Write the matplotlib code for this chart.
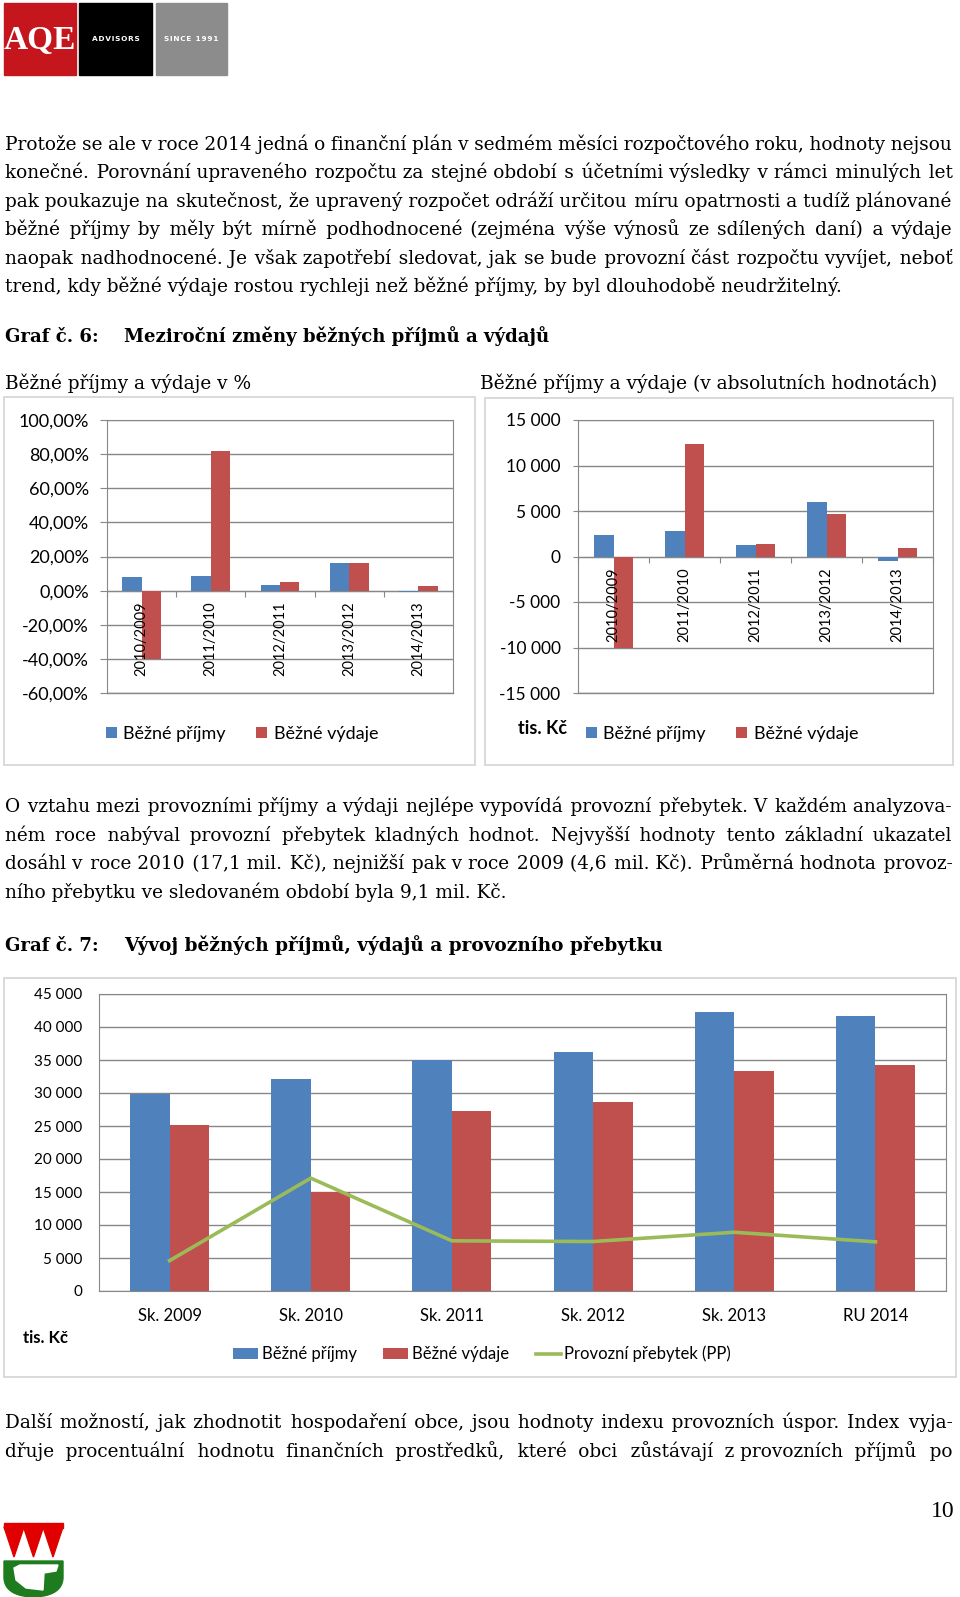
import numpy as np
import matplotlib
matplotlib.use('Agg')
from matplotlib import pyplot as plt
from matplotlib.patches import Rectangle, Polygon
from matplotlib.ticker import FuncFormatter

plt.rcParams['font.family'] = ['Lato', 'DejaVu Sans']

W, H = 960, 1597

# Graf 6 - mezirocni zmeny
periods = ['2010/2009', '2011/2010', '2012/2011', '2013/2012', '2014/2013']
income_pct = [8.0, 8.8, 3.3, 16.2, -1.0]
spend_pct = [-40.0, 81.6, 4.9, 16.2, 2.5]
income_abs = [2380, 2820, 1210, 5960, -480]
spend_abs = [-10060, 12330, 1320, 4680, 910]

# Graf 7 - vyvoj (tis. Kc)
years = ['Sk. 2009', 'Sk. 2010', 'Sk. 2011', 'Sk. 2012', 'Sk. 2013', 'RU 2014']
income = [29800, 32100, 35000, 36200, 42200, 41700]
spending = [25150, 15000, 27300, 28600, 33300, 34200]
surplus = [4600, 17100, 7600, 7500, 8900, 7450]

blue = '#4F81BD'
red = '#C0504D'
green = '#9BBB59'
grid_c = '#878787'
frame_c = '#D9D9D9'
serif = ['DejaVu Serif', 'DejaVu Sans']

para1 = [
    'Protože se ale v roce 2014 jedná o finanční plán v sedmém měsíci rozpočtového roku, hodnoty nejsou',
    'konečné. Porovnání upraveného rozpočtu za stejné období s účetními výsledky v rámci minulých let',
    'pak poukazuje na skutečnost, že upravený rozpočet odráží určitou míru opatrnosti a tudíž plánované',
    'běžné příjmy by měly být mírně podhodnocené (zejména výše výnosů ze sdílených daní) a výdaje',
    'naopak nadhodnocené. Je však zapotřebí sledovat, jak se bude provozní část rozpočtu vyvíjet, neboť',
    'trend, kdy běžné výdaje rostou rychleji než běžné příjmy, by byl dlouhodobě neudržitelný.',
]
para2 = [
    'O vztahu mezi provozními příjmy a výdaji nejlépe vypovídá provozní přebytek. V každém analyzova-',
    'ném roce nabýval provozní přebytek kladných hodnot. Nejvyšší hodnoty tento základní ukazatel',
    'dosáhl v roce 2010 (17,1 mil. Kč), nejnižší pak v roce 2009 (4,6 mil. Kč). Průměrná hodnota provoz-',
    'ního přebytku ve sledovaném období byla 9,1 mil. Kč.',
]
para3 = [
    'Další možností, jak zhodnotit hospodaření obce, jsou hodnoty indexu provozních úspor. Index vyja-',
    'dřuje procentuální hodnotu finančních prostředků, které obci zůstávají z\u00a0provozních příjmů po',
]

fig = plt.figure(figsize=(W / 100, H / 100), dpi=100)
fig.patch.set_facecolor('white')

# whole page in pixel coordinates
page = fig.add_axes([0, 0, 1, 1])
page.set_xlim(0, W)
page.set_ylim(H, 0)
page.axis('off')

rend = fig.canvas.get_renderer()
body_fs = 13.3
HAIR = '\u200a'
THIN = '\u2009'


def width_of(s):
    t = page.text(0, 0, s, fontsize=body_fs, family=serif)
    w = t.get_window_extent(rend).width
    t.remove()
    return w


sp_w = width_of('x x') - width_of('xx')
thin_w = width_of('x' + THIN + 'x') - width_of('xx')
hair_w = width_of('x' + HAIR * 10 + 'x') / 10 - width_of('xx') / 10


def text_line(s, y, justify=True, x0=5, x1=952):
    # one Text per line; justification room filled with hair spaces
    words = s.split(' ')
    if justify and len(words) > 1:
        n = len(words) - 1
        natural = width_of(s)
        base = ' '
        extra = (x1 - x0 - natural) / n
        if extra < 0:
            base = THIN
            extra += sp_w - thin_w
        k = max(extra, 0) / hair_w
        out = words[0]
        for j, w in enumerate(words[1:]):
            m = int(round((j + 1) * k) - round(j * k))
            out += base + HAIR * m + w
        s = out
    page.text(x0, y, s, fontsize=body_fs, family=serif, va='baseline')


def paragraph(lines, y0, last_justified=False, step=28.6):
    for i, s in enumerate(lines):
        text_line(s, y0 + i * step, justify=(i < len(lines) - 1 or last_justified))


paragraph(para1, 149.5)
paragraph(para2, 812)
paragraph(para3, 1428, last_justified=True)

head_fs = 13.1
page.text(5, 342, 'Graf č. 6:', fontsize=head_fs, family=serif, fontweight='bold', va='baseline')
page.text(124, 342, 'Meziroční změny běžných příjmů a výdajů', fontsize=head_fs,
          family=serif, fontweight='bold', va='baseline')
page.text(5, 951, 'Graf č. 7:', fontsize=head_fs, family=serif, fontweight='bold', va='baseline')
page.text(124, 951, 'Vývoj běžných příjmů, výdajů a provozního přebytku', fontsize=13.3,
          family=serif, fontweight='bold', va='baseline')
page.text(5, 389, 'Běžné příjmy a výdaje v %', fontsize=13.3, family=serif, va='baseline')
page.text(480, 389, 'Běžné příjmy a výdaje (v absolutních hodnotách)', fontsize=13.4,
          family=serif, va='baseline')
page.text(955, 1517, '10', fontsize=17, family='Liberation Serif', ha='right', va='baseline')

# header logo
page.add_patch(Rectangle((4, 3), 72, 72, color='#C4161C'))
page.add_patch(Rectangle((79, 3), 73, 72, color='black'))
page.add_patch(Rectangle((156, 3), 71, 72, color='#8C8C8C'))
page.text(40, 41, 'AQE', color='white', fontsize=24, family='Liberation Serif',
          fontweight='bold', ha='center', va='center')
page.text(115.5, 39, HAIR.join('ADVISORS'), color='white', fontsize=5.3, fontweight='bold',
          family='DejaVu Sans', ha='center', va='center')
page.text(191.5, 39, HAIR.join('SINCE 1991'), color='white', fontsize=5.3,
          fontweight='bold', family='DejaVu Sans', ha='center', va='center')

# coat of arms bottom left
t = np.linspace(0, 1, 15)
left_curve = [((1 - s) ** 2 * 4 + 2 * (1 - s) * s * 5 + s ** 2 * 33.5,
               (1 - s) ** 2 * 1578 + 2 * (1 - s) * s * 1596 + s ** 2 * 1597) for s in t]
right_side = [(67 - px, py) for px, py in left_curve]
green_pts = [(4, 1561), (63, 1561)] + right_side + left_curve[::-1]
page.add_patch(Polygon(green_pts, closed=True, color='#1E7B1E'))
page.add_patch(Polygon([(14, 1568), (20, 1565), (58, 1565), (56, 1571), (44, 1573),
                        (43, 1590), (26, 1588), (16, 1580)], closed=True, color='white'))
page.add_patch(Rectangle((4, 1523), 59, 5, color='#E00000'))
for cx in (14, 33.5, 53):
    page.add_patch(Polygon([(cx - 10, 1527), (cx + 10, 1527), (cx, 1557)], closed=True,
                           color='#E00000'))

# chart frames
page.add_patch(Rectangle((4, 397), 471, 368, fill=False, ec=frame_c, lw=1.4))
page.add_patch(Rectangle((485, 398), 468, 367, fill=False, ec=frame_c, lw=1.4))
page.add_patch(Rectangle((4, 978), 952, 399, fill=False, ec=frame_c, lw=1.4))


def box(x0, y0, x1, y1):
    return [x0 / W, 1 - y1 / H, (x1 - x0) / W, (y1 - y0) / H]


def style(ax):
    for s in ax.spines.values():
        s.set_color(grid_c)
    ax.yaxis.grid(True, color=grid_c, lw=1)
    ax.set_axisbelow(True)


bw = 0.28


def change_chart(ax, inc, spd, lo, hi, step, fmt, ytick_len, ypad, fs):
    x = np.arange(len(periods))
    ax.bar(x - bw / 2, inc, bw, color=blue, label='Běžné příjmy', zorder=3)
    ax.bar(x + bw / 2, spd, bw, color=red, label='Běžné výdaje', zorder=3)
    ax.set_xlim(-0.5, len(periods) - 0.5)
    ax.set_ylim(lo, hi)
    ax.set_yticks(np.arange(lo, hi + step, step))
    ax.yaxis.set_major_formatter(FuncFormatter(fmt))
    style(ax)
    ax.spines['bottom'].set_position(('data', 0))
    ax.axhline(lo, color=grid_c, lw=1, clip_on=False)
    ax.set_xticks(np.arange(-0.5, len(periods), 1))
    ax.set_xticklabels([])
    ax.tick_params(axis='x', length=4, color=grid_c, direction='out')
    ax.tick_params(axis='y', length=ytick_len, color=grid_c, pad=ypad, labelsize=fs)
    for i, lab in enumerate(periods):
        ax.annotate(lab, (i, 0), xytext=(0, -8), textcoords='offset points',
                    rotation=90, ha='center', va='top', fontsize=10.5, zorder=4)


ax1 = fig.add_axes(box(107, 420, 453, 693))
change_chart(ax1, income_pct, spend_pct, -60, 100, 20,
             lambda v, p: f'{v:.2f}'.replace('.', ',') + '%', 5, 8, 13)
ax1.legend(loc='center', bbox_to_anchor=(242 / W, 1 - 734 / H), bbox_transform=fig.transFigure,
           ncol=2, frameon=False, fontsize=13, handlelength=0.6, handleheight=0.6,
           handletextpad=0.35, columnspacing=1.7)

ax2 = fig.add_axes(box(578, 420, 933, 693))
change_chart(ax2, income_abs, spend_abs, -15000, 15000, 5000,
             lambda v, p: f'{v:,.0f}'.replace(',', ' '), 3.6, 9, 12.5)
ax2.legend(loc='center', bbox_to_anchor=(722 / W, 1 - 734 / H), bbox_transform=fig.transFigure,
           ncol=2, frameon=False, fontsize=13, handlelength=0.6, handleheight=0.6,
           handletextpad=0.35, columnspacing=1.7)
page.text(518, 728, 'tis. Kč', fontsize=13, fontweight='bold', va='center')

ax3 = fig.add_axes(box(99, 994, 946, 1291))
x3 = np.arange(len(years))
b1 = ax3.bar(x3 - bw / 2, income, bw, color=blue)
b2 = ax3.bar(x3 + bw / 2, spending, bw, color=red)
l1, = ax3.plot(x3, surplus, color=green, lw=2.6)
ax3.set_xlim(-0.5, len(years) - 0.5)
ax3.set_ylim(0, 45000)
ax3.set_yticks(np.arange(0, 45001, 5000))
ax3.yaxis.set_major_formatter(FuncFormatter(lambda v, p: f'{v:,.0f}'.replace(',', ' ')))
ax3.set_xticks(x3, years)
style(ax3)
ax3.tick_params(axis='x', length=0, pad=12, labelsize=12)
ax3.tick_params(axis='y', length=0, pad=12, labelsize=11)
ax3.legend([b1, b2, l1], ['Běžné příjmy', 'Běžné výdaje', 'Provozní přebytek (PP)'],
           loc='center', bbox_to_anchor=(482 / W, 1 - 1354 / H), bbox_transform=fig.transFigure,
           ncol=3, frameon=False, fontsize=12, handlelength=1.5, handleheight=0.6,
           handletextpad=0.2, columnspacing=1.6)
page.text(23, 1338, 'tis. Kč', fontsize=12, fontweight='bold', va='center')

fig.savefig('out.png', dpi=100, facecolor='white')
